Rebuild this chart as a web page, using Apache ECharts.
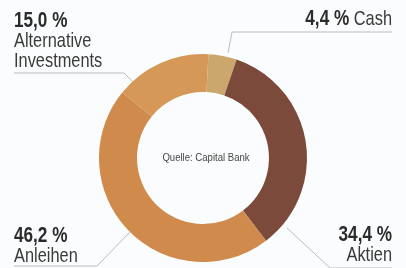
<!DOCTYPE html>
<html>
<head>
<meta charset="utf-8">
<script src="https://cdn.jsdelivr.net/npm/echarts@6/dist/echarts.min.js"></script>
<style>
html,body{margin:0;padding:0;background:#fbfcfd;}
#c{width:406px;height:268px;}
</style>
</head>
<body>
<div id="c"></div>
<script>
// ---- data ----
var categories = ['Cash', 'Aktien', 'Anleihen', 'Alternative Investments'];
var shares = [4.4, 34.4, 46.2, 15.0];
var sourceNote = 'Quelle: Capital Bank';

// ---- styling / layout (not data) ----
var colors = ['#cba76e', '#7b4a3b', '#d08a4c', '#d69857'];
var FONT = "'Liberation Sans', Arial, sans-serif";
var NARROW = 0.78;           // horizontal squeeze to imitate the condensed print font
var labelKind = ['inline', 'stack', 'stack', 'stack'];
var labelAnchor = [
  {x: 392, top: 9, align: 'right'},
  {x: 392, top: 225, align: 'right'},
  {x: 14, top: 226, align: 'left'},
  {x: 14, top: 11, align: 'left'}
];
var leaderLines = [
  [[228, 53], [232, 32], [392, 32]],
  [[287, 228], [330, 268], [392, 268]],
  [[130, 232], [97, 266], [14, 266]],
  [[133, 82], [124, 73], [14, 73]]
];

function fmtPct(v) { return v.toFixed(1).replace('.', ',') + ' %'; }
function labelText(i) {
  var v = '{v|' + fmtPct(shares[i]) + '}';
  if (labelKind[i] === 'inline') return v + '{n| ' + categories[i] + '}';
  return v + '\n' + categories[i].split(' ').map(function (w) { return '{n|' + w + '}'; }).join('\n');
}

var data = categories.map(function (c, i) {
  return { name: c, value: shares[i], itemStyle: { color: colors[i] } };
});

var graphics = categories.map(function (c, i) {
  var a = labelAnchor[i];
  return {
    type: 'text',
    x: a.x, y: a.top,
    scaleX: NARROW,
    silent: true,
    style: {
      text: labelText(i),
      align: a.align,
      verticalAlign: 'top',
      rich: {
        v: { fontFamily: FONT, fontSize: 22, fontWeight: 'bold', fill: '#2b2b2b', lineHeight: 20, align: a.align },
        n: { fontFamily: FONT, fontSize: 21, fontWeight: 'normal', fill: '#3a3a3a', lineHeight: 20, align: a.align }
      }
    }
  };
});
graphics.push({
  type: 'text',
  x: 206, y: 158,
  scaleX: 0.87,
  silent: true,
  style: {
    text: sourceNote,
    align: 'center',
    verticalAlign: 'middle',
    fontFamily: FONT,
    fontSize: 11,
    fill: '#474747'
  }
});

var chart = echarts.init(document.getElementById('c'), null, {renderer: 'canvas'});
chart.setOption({
  backgroundColor: '#fbfcfd',
  animation: false,
  graphic: { elements: graphics },
  series: [{
    type: 'pie',
    center: ['50%', 158],
    radius: [66, 104],
    startAngle: 87,
    clockwise: true,
    avoidLabelOverlap: false,
    data: data,
    label: {
      show: true,
      position: 'outside',
      formatter: '{b}',
      color: 'rgba(0,0,0,0)',
      fontSize: 10
    },
    labelLine: {
      show: true,
      lineStyle: { color: '#b9bdc1', width: 1 }
    },
    labelLayout: function (params) {
      var i = params.dataIndex;
      var a = labelAnchor[i];
      return {
        x: a.x, y: a.top, align: a.align, verticalAlign: 'top',
        labelLinePoints: leaderLines[i]
      };
    },
    emphasis: { disabled: true }
  }]
});
</script>
</body>
</html>
